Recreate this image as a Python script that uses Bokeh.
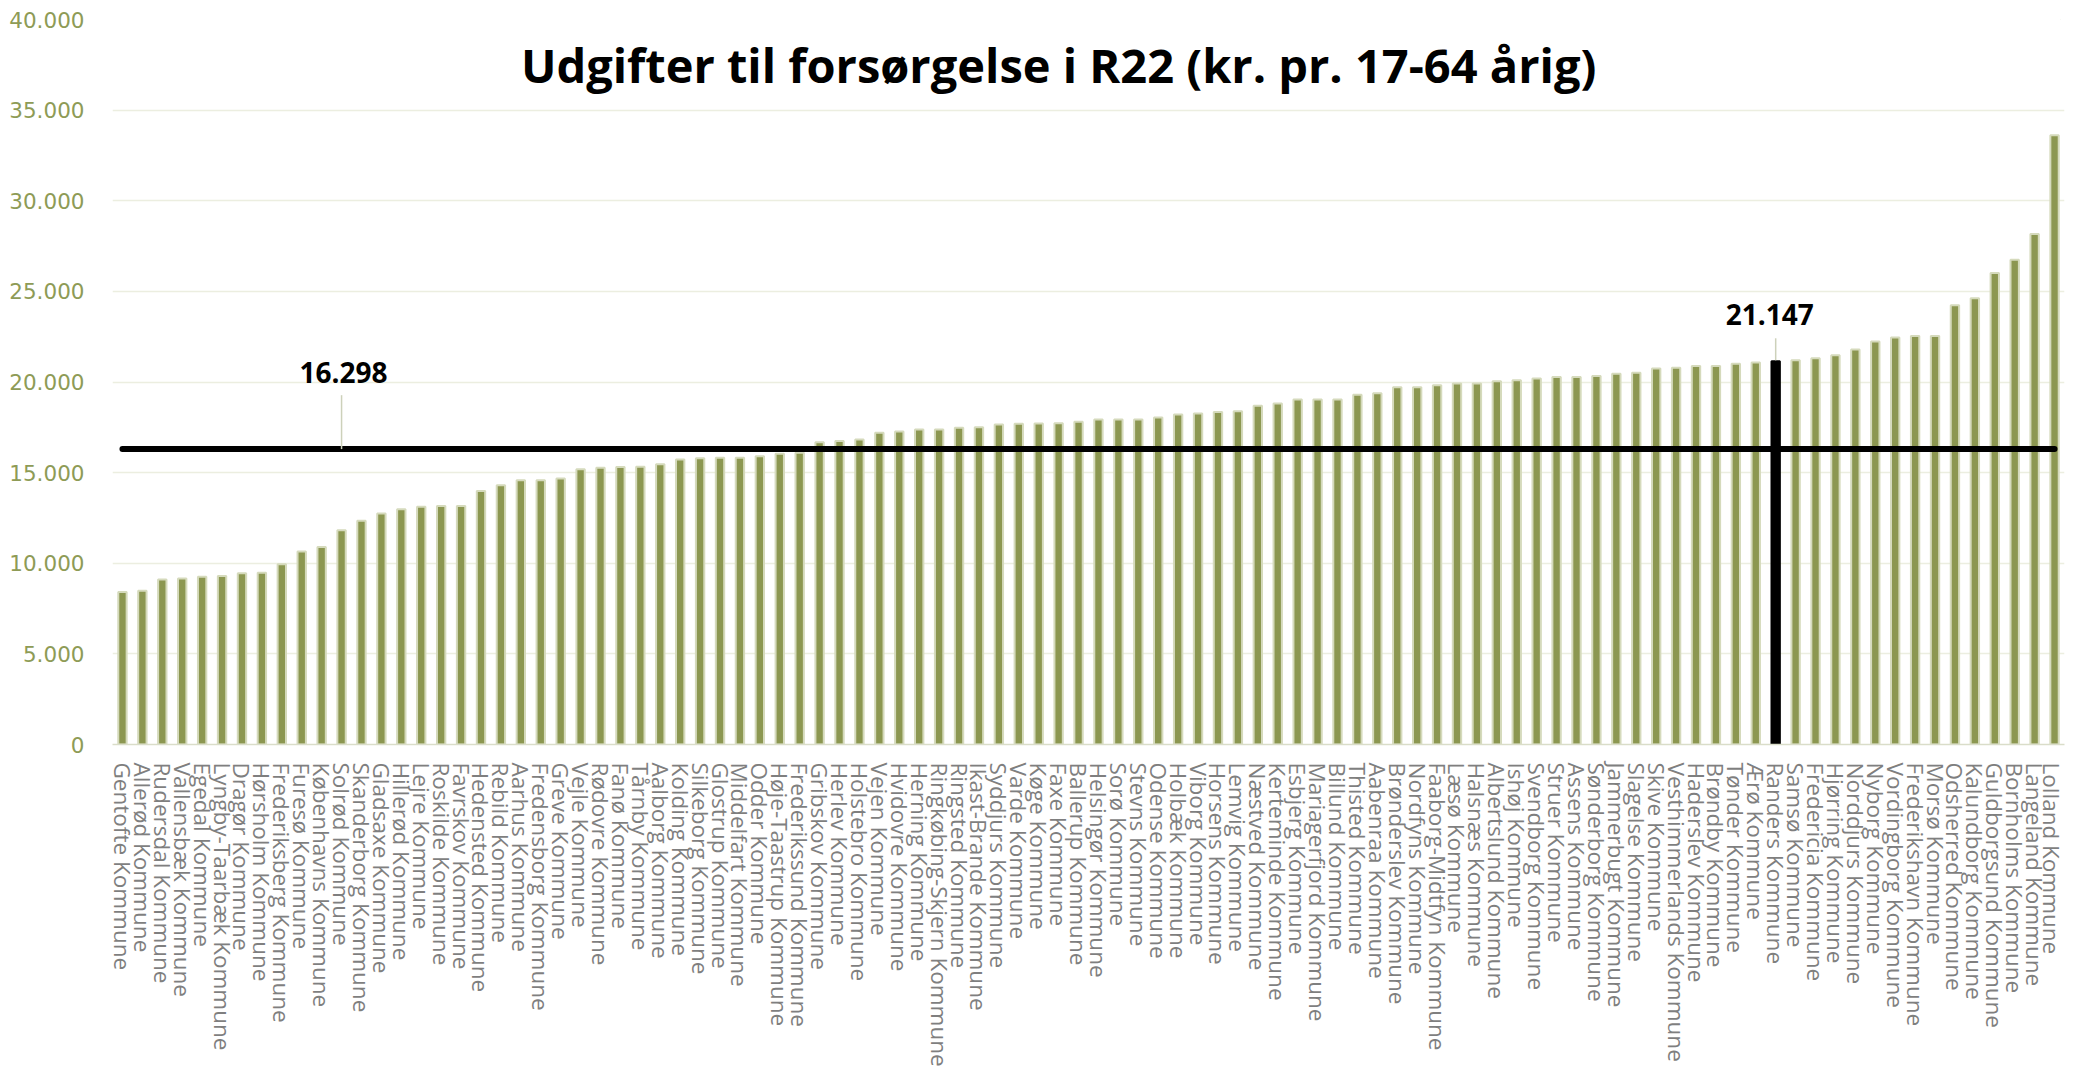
import math
from bokeh.plotting import figure
from bokeh.models import FactorRange, Range1d, FixedTicker, ColumnDataSource
from bokeh.embed import file_html
from bokeh.resources import INLINE
from bokeh.core.properties import value

# ---------------- data ----------------
names = [
    "Gentofte Kommune", "Allerød Kommune", "Rudersdal Kommune", "Vallensbæk Kommune", "Egedal Kommune",
    "Lyngby-Taarbæk Kommune", "Dragør Kommune", "Hørsholm Kommune", "Frederiksberg Kommune", "Furesø Kommune",
    "Københavns Kommune", "Solrød Kommune", "Skanderborg Kommune", "Gladsaxe Kommune", "Hillerød Kommune",
    "Lejre Kommune", "Roskilde Kommune", "Favrskov Kommune", "Hedensted Kommune", "Rebild Kommune",
    "Aarhus Kommune", "Fredensborg Kommune", "Greve Kommune", "Vejle Kommune", "Rødovre Kommune",
    "Fanø Kommune", "Tårnby Kommune", "Aalborg Kommune", "Kolding Kommune", "Silkeborg Kommune",
    "Glostrup Kommune", "Middelfart Kommune", "Odder Kommune", "Høje-Taastrup Kommune", "Frederikssund Kommune",
    "Gribskov Kommune", "Herlev Kommune", "Holstebro Kommune", "Vejen Kommune", "Hvidovre Kommune",
    "Herning Kommune", "Ringkøbing-Skjern Kommune", "Ringsted Kommune", "Ikast-Brande Kommune", "Syddjurs Kommune",
    "Varde Kommune", "Køge Kommune", "Faxe Kommune", "Ballerup Kommune", "Helsingør Kommune",
    "Sorø Kommune", "Stevns Kommune", "Odense Kommune", "Holbæk Kommune", "Viborg Kommune",
    "Horsens Kommune", "Lemvig Kommune", "Næstved Kommune", "Kerteminde Kommune", "Esbjerg Kommune",
    "Mariagerfjord Kommune", "Billund Kommune", "Thisted Kommune", "Aabenraa Kommune", "Brønderslev Kommune",
    "Nordfyns Kommune", "Faaborg-Midtfyn Kommune", "Læsø Kommune", "Halsnæs Kommune", "Albertslund Kommune",
    "Ishøj Kommune", "Svendborg Kommune", "Struer Kommune", "Assens Kommune", "Sønderborg Kommune",
    "Jammerbugt Kommune", "Slagelse Kommune", "Skive Kommune", "Vesthimmerlands Kommune", "Haderslev Kommune",
    "Brøndby Kommune", "Tønder Kommune", "Ærø Kommune", "Randers Kommune", "Samsø Kommune",
    "Fredericia Kommune", "Hjørring Kommune", "Norddjurs Kommune", "Nyborg Kommune", "Vordingborg Kommune",
    "Frederikshavn Kommune", "Morsø Kommune", "Odsherred Kommune", "Kalundborg Kommune", "Guldborgsund Kommune",
    "Bornholms Kommune", "Langeland Kommune", "Lolland Kommune",
]

values = [
    8410, 8480, 9100, 9160, 9250, 9290, 9450, 9470, 9950, 10650,
    10890, 11820, 12350, 12740, 12980, 13120, 13160, 13160, 13990, 14300,
    14580, 14580, 14670, 15180, 15270, 15310, 15330, 15460, 15730, 15790,
    15820, 15820, 15900, 16040, 16100, 16670, 16740, 16830, 17200, 17270,
    17380, 17380, 17480, 17510, 17660, 17700, 17710, 17730, 17810, 17930,
    17930, 17930, 18040, 18210, 18260, 18340, 18390, 18690, 18810, 19040,
    19040, 19040, 19290, 19380, 19710, 19710, 19820, 19920, 19920, 20040,
    20100, 20190, 20280, 20280, 20330, 20460, 20510, 20740, 20790, 20880,
    20880, 21010, 21070, 21147, 21200, 21310, 21480, 21790, 22230, 22450,
    22540, 22540, 24240, 24620, 26010, 26740, 28160, 33610,
]

average_value = 16298
highlight = "Randers Kommune"
title_text = "Udgifter til forsørgelse i R22 (kr. pr. 17-64 årig)"
y_ticks = [0, 5000, 10000, 15000, 20000, 25000, 30000, 35000, 40000]


def fmt(v):
    return f"{int(v):,}".replace(",", ".")


# ---------------- style ----------------
BAR = "#8C9751"
BAR_EDGE = "#D5DABC"
GRID = "#ECEEE0"
YLAB = "#8E9B56"
XLAB = "#7F7F7F"
LEADER = "#CDD1BA"

p = figure(
    width=2066, height=1077,
    x_range=FactorRange(factors=names, range_padding=0),
    y_range=Range1d(0, 40000),
    output_backend="svg", toolbar_location=None,
    min_border_left=112, min_border_right=2, min_border_top=19, min_border_bottom=333,
)
p.styles = {"outline": "1.5px solid #E3E6D5", "outline-offset": "-6px"}
p.background_fill_color = "white"
p.border_fill_color = "white"
p.outline_line_color = None

colors = ["black" if n == highlight else BAR for n in names]
edges = ["black" if n == highlight else BAR_EDGE for n in names]
src = ColumnDataSource(dict(name=names, val=values, color=colors, edge=edges))

p.vbar(x="name", top="val", width=0.42, fill_color="color", line_color="edge",
       line_width=2, source=src)

# average line
p.line(x=[names[0], names[-1]], y=[average_value, average_value],
       line_color="black", line_width=6, line_cap="round")

hv = values[names.index(highlight)]

# leader lines
p.segment(x0=[names[11], highlight], y0=[average_value + 2975, hv + 1265],
          x1=[names[11], highlight], y1=[average_value, hv + 50],
          line_color=LEADER, line_width=1.5)

# value labels
p.text(x=[names[11], highlight], y=[average_value + 4240, hv + 2590],
       text=[fmt(average_value), fmt(hv)],
       text_font=value("Open Sans"), text_font_style="bold", text_font_size="28px",
       text_align="center", text_baseline="middle", text_color="black",
       x_offset=[2, -6])

# title
p.text(x=[names[47]], y=[37500], text=[title_text],
       text_font=value("Open Sans"), text_font_style="bold", text_font_size="47px",
       text_align="center", text_baseline="middle", text_color="black")

# axes
p.xaxis.major_label_orientation = -math.pi / 2
p.xaxis.major_label_text_font = "Open Sans"
p.xaxis.major_label_text_font_size = "22.5px"
p.xaxis.major_label_text_color = XLAB
p.xaxis.major_tick_line_color = None
p.xaxis.minor_tick_line_color = None
p.xaxis.axis_line_color = "#DADDC9"
p.xaxis.axis_line_width = 1.5
p.xaxis.major_label_standoff = 12

p.yaxis.ticker = FixedTicker(ticks=y_ticks)
p.yaxis.major_label_overrides = {t: fmt(t) for t in y_ticks}
p.yaxis.axis_line_color = None
p.yaxis.major_tick_line_color = None
p.yaxis.minor_tick_line_color = None
p.yaxis.major_label_text_font = "DejaVu Sans"
p.yaxis.major_label_text_font_size = "21.5px"
p.yaxis.major_label_text_color = YLAB
p.yaxis.major_label_standoff = 22

p.xgrid.grid_line_color = None
p.ygrid.ticker = FixedTicker(ticks=y_ticks)
p.ygrid.grid_line_color = GRID
p.ygrid.grid_line_width = 1.5

open("out.html", "w").write(file_html(p, INLINE))
